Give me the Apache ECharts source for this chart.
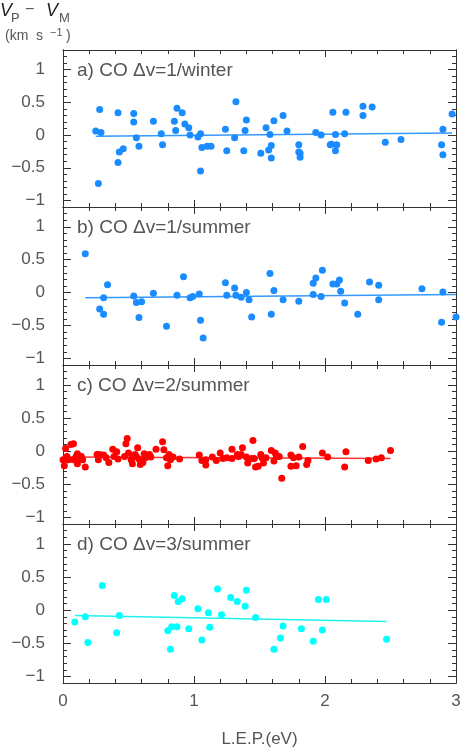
<!DOCTYPE html>
<html>
<head>
<meta charset="utf-8">
<script src="https://cdn.jsdelivr.net/npm/echarts@6/dist/echarts.min.js"></script>
<style>
  html, body { margin: 0; padding: 0; background: #fff; }
  #chart { width: 463px; height: 750px; }
</style>
</head>
<body>
<div id="chart"></div>
<script>
// panel a) CO dv=1 / winter
var lepA = [0.25,0.27,0.28,0.29,0.42,0.42,0.43,0.46,0.54,0.54,0.56,0.58,0.69,0.75,0.76,0.85,0.86,0.87,0.91,0.93,0.96,0.97,1.03,1.05,1.05,1.06,1.10,1.13,1.24,1.25,1.31,1.32,1.38,1.39,1.40,1.51,1.55,1.57,1.58,1.59,1.59,1.61,1.68,1.71,1.80,1.80,1.81,1.81,1.93,1.97,2.04,2.05,2.06,2.08,2.08,2.09,2.15,2.16,2.29,2.29,2.36,2.46,2.58,2.89,2.90,2.90,2.97];
var dvA = [0.06,-0.74,0.39,0.04,-0.42,0.34,-0.26,-0.21,0.33,0.20,-0.04,-0.17,0.21,0.02,-0.15,0.21,0.07,0.41,0.34,0.17,0.11,0.00,-0.03,-0.55,0.02,-0.19,-0.17,-0.17,0.09,-0.24,-0.04,0.51,-0.24,0.07,0.23,-0.28,0.11,-0.23,0.01,-0.35,-0.16,0.22,0.30,0.06,-0.15,-0.26,-0.34,-0.28,0.04,0.00,-0.15,-0.14,0.35,-0.24,0.01,-0.15,0.02,0.35,0.30,0.44,0.43,-0.11,-0.07,-0.15,0.09,-0.30,0.32];
var fitA = [[0.25,-0.02],[2.97,0.03]];

// panel b) CO dv=1 / summer
var lepB = [0.17,0.28,0.31,0.31,0.34,0.54,0.56,0.58,0.60,0.69,0.79,0.87,0.92,0.97,0.99,1.04,1.05,1.07,1.24,1.25,1.31,1.32,1.36,1.40,1.42,1.44,1.58,1.59,1.61,1.68,1.80,1.91,1.91,1.93,1.97,1.98,2.06,2.09,2.11,2.12,2.15,2.25,2.34,2.41,2.41,2.74,2.89,2.90,3.00];
var dvB = [0.59,-0.25,-0.33,-0.08,0.12,-0.05,-0.15,-0.38,-0.14,-0.01,-0.51,-0.04,0.24,-0.08,-0.06,-0.02,-0.42,-0.69,0.15,-0.04,0.07,-0.04,-0.07,0.00,-0.11,-0.37,0.29,-0.33,0.03,-0.11,-0.13,0.14,-0.03,0.22,-0.06,0.34,0.13,0.13,0.19,0.02,-0.16,-0.33,0.16,0.11,-0.11,0.06,-0.45,0.01,-0.37];
var fitB = [[0.17,-0.08],[3.00,-0.03]];

// panel c) CO dv=2 / summer
var lepC = [0.00,0.01,0.02,0.03,0.04,0.06,0.08,0.08,0.10,0.11,0.11,0.13,0.14,0.15,0.17,0.26,0.27,0.28,0.31,0.33,0.35,0.38,0.39,0.41,0.42,0.47,0.48,0.49,0.50,0.52,0.53,0.53,0.55,0.56,0.57,0.58,0.59,0.61,0.62,0.63,0.66,0.67,0.71,0.76,0.77,0.79,0.80,0.81,0.82,0.84,0.89,1.04,1.06,1.09,1.09,1.14,1.17,1.20,1.22,1.25,1.29,1.29,1.33,1.34,1.36,1.37,1.40,1.41,1.44,1.45,1.46,1.47,1.49,1.51,1.52,1.53,1.55,1.59,1.61,1.62,1.63,1.65,1.67,1.74,1.74,1.76,1.78,1.80,1.83,1.86,1.87,1.98,2.02,2.15,2.16,2.33,2.39,2.43,2.50];
var dvC = [-0.13,-0.22,0.04,-0.08,-0.13,0.10,0.11,-0.13,-0.08,-0.19,-0.04,-0.12,-0.08,-0.13,-0.24,-0.05,-0.13,-0.05,-0.06,-0.10,-0.17,0.03,-0.08,-0.01,-0.12,-0.08,0.11,0.19,-0.03,-0.13,-0.10,-0.19,-0.05,-0.08,0.05,-0.12,-0.20,-0.17,-0.04,-0.10,-0.05,-0.09,0.03,0.14,0.02,-0.10,-0.22,-0.05,-0.13,-0.09,-0.12,-0.06,-0.14,-0.13,-0.21,-0.09,-0.14,-0.03,-0.11,-0.10,-0.11,0.03,-0.05,-0.08,-0.05,0.05,-0.09,-0.18,-0.11,0.16,-0.11,-0.24,-0.23,-0.05,-0.10,-0.18,-0.10,0.01,-0.15,-0.03,-0.08,-0.08,-0.41,-0.06,-0.23,-0.10,-0.22,-0.09,0.07,-0.20,-0.14,-0.03,-0.09,-0.24,-0.01,-0.14,-0.12,-0.10,0.01];
var fitC = [[0.00,-0.09],[2.50,-0.11]];

// panel d) CO dv=3 / summer
var lepD = [0.09,0.17,0.19,0.30,0.41,0.43,0.80,0.82,0.83,0.85,0.87,0.88,0.91,0.96,1.03,1.06,1.11,1.12,1.18,1.21,1.28,1.33,1.39,1.40,1.47,1.61,1.66,1.68,1.82,1.91,1.95,1.98,2.01,2.47];
var dvD = [-0.18,-0.10,-0.49,0.37,-0.34,-0.08,-0.31,-0.59,-0.25,0.22,-0.25,0.13,0.17,-0.28,0.02,-0.45,-0.04,-0.26,0.32,-0.07,0.19,0.13,0.06,0.30,-0.11,-0.59,-0.42,-0.24,-0.28,-0.47,0.16,-0.30,0.16,-0.44];
var fitD = [[0.09,-0.08],[2.47,-0.17]];

var panelLabels = ['a) CO \u0394v=1/winter', 'b) CO \u0394v=1/summer', 'c) CO \u0394v=2/summer', 'd) CO \u0394v=3/summer'];
var yMajor = [-1, -0.5, 0, 0.5, 1];

var panels = [
  { x: lepA, y: dvA, fit: fitA, dot: '#1a8cff', line: '#3399ff' },
  { x: lepB, y: dvB, fit: fitB, dot: '#1a8cff', line: '#3399ff' },
  { x: lepC, y: dvC, fit: fitC, dot: '#ff0000', line: '#ff3030' },
  { x: lepD, y: dvD, fit: fitD, dot: '#00ffff', line: '#20f0f0' }
];

var tops = [50, 207, 365, 524];
var heights = [157, 158, 159, 159];
var font = '"Liberation Sans", Arial, sans-serif';
var txt = '#555';
var axisCol = '#333';

var grids = [], xAxes = [], yAxes = [], series = [], graphics = [];

function fmt(v) { return String(v).replace('-', '\u2212'); }
// ticks only showed up with labels switched on, so unused sides get blank labels
function blank() { return ''; }

panels.forEach(function (p, i) {
  grids.push({
    left: 63, width: 393, top: tops[i], height: heights[i],
    show: false, outerBoundsMode: 'none'
  });

  ['bottom', 'top'].forEach(function (pos) {
    var isLabelled = pos === 'bottom' && i === 3;
    var ax = {
      gridIndex: i, type: 'value', min: 0, max: 3, interval: 1, position: pos,
      axisLine: { show: true, onZero: false, lineStyle: { color: axisCol } },
      axisTick: { show: true, inside: true, length: 7 },
      minorTick: { show: true, splitNumber: 5, length: 4 },
      splitLine: { show: false },
      axisLabel: { show: true, formatter: blank }
    };
    if (isLabelled) {
      ax.axisLabel = { show: true, color: txt, fontSize: 17, fontFamily: font, margin: 10 };
      ax.name = 'L.E.P.(eV)';
      ax.nameLocation = 'middle';
      ax.nameGap = 48;
      ax.nameTextStyle = { color: txt, fontSize: 17, fontFamily: font };
    }
    xAxes.push(ax);
  });

  ['left', 'right'].forEach(function (pos) {
    // major ticks (and labels on the left) at -1 .. 1
    yAxes.push({
      gridIndex: i, type: 'value', min: -1.1, max: 1.3, position: pos,
      axisLine: { show: true, onZero: false, lineStyle: { color: axisCol } },
      axisTick: { show: true, inside: true, length: 8, customValues: yMajor },
      splitLine: { show: false },
      axisLabel: pos === 'left'
        ? { show: true, customValues: yMajor, formatter: fmt, color: txt, fontSize: 17, fontFamily: font, margin: 18 }
        : { show: true, customValues: yMajor, formatter: blank }
    });
    // minor ticks every 0.1
    yAxes.push({
      gridIndex: i, type: 'value', min: -1.1, max: 1.3, interval: 0.1, position: pos,
      axisLine: { show: true, onZero: false, lineStyle: { color: axisCol } },
      axisTick: { show: true, inside: true, length: 4 },
      splitLine: { show: false },
      axisLabel: { show: true, formatter: blank }
    });
  });

  series.push({
    type: 'scatter', xAxisIndex: 2 * i, yAxisIndex: 4 * i,
    symbolSize: 7, itemStyle: { color: p.dot, opacity: 1 },
    data: p.x.map(function (v, k) { return [v, p.y[k]]; }),
    z: 3
  });
  series.push({
    type: 'line', xAxisIndex: 2 * i, yAxisIndex: 4 * i,
    showSymbol: false, symbol: 'none',
    lineStyle: { color: p.line, width: 1.5 },
    data: p.fit, z: 2
  });

  graphics.push({
    type: 'text', left: 77, top: tops[i] + 11,
    style: { text: panelLabels[i], fill: txt, font: '19px ' + font }
  });
});

// y-axis title: V_P - V_M (km s^-1)
graphics.push(
  { type: 'text', left: 0, top: 2, style: { text: 'V', fill: '#222', font: 'italic 18px ' + font } },
  { type: 'text', left: 11, top: 12, style: { text: 'P', fill: txt, font: '13px ' + font } },
  { type: 'text', left: 25, top: 2, style: { text: '\u2212', fill: txt, font: '16px ' + font } },
  { type: 'text', left: 46, top: 2, style: { text: 'V', fill: '#222', font: 'italic 18px ' + font } },
  { type: 'text', left: 59, top: 12, style: { text: 'M', fill: txt, font: '13px ' + font } },
  { type: 'text', left: 5, top: 29, style: { text: '(km  s', fill: txt, font: '14px ' + font } },
  { type: 'text', left: 50, top: 27, style: { text: '\u22121', fill: txt, font: '11px ' + font } },
  { type: 'text', left: 66, top: 29, style: { text: ')', fill: txt, font: '14px ' + font } }
);

var chart = echarts.init(document.getElementById('chart'), null, { renderer: 'canvas' });
chart.setOption({
  animation: false,
  backgroundColor: '#fff',
  grid: grids,
  xAxis: xAxes,
  yAxis: yAxes,
  series: series,
  graphic: graphics
});
</script>
</body>
</html>
